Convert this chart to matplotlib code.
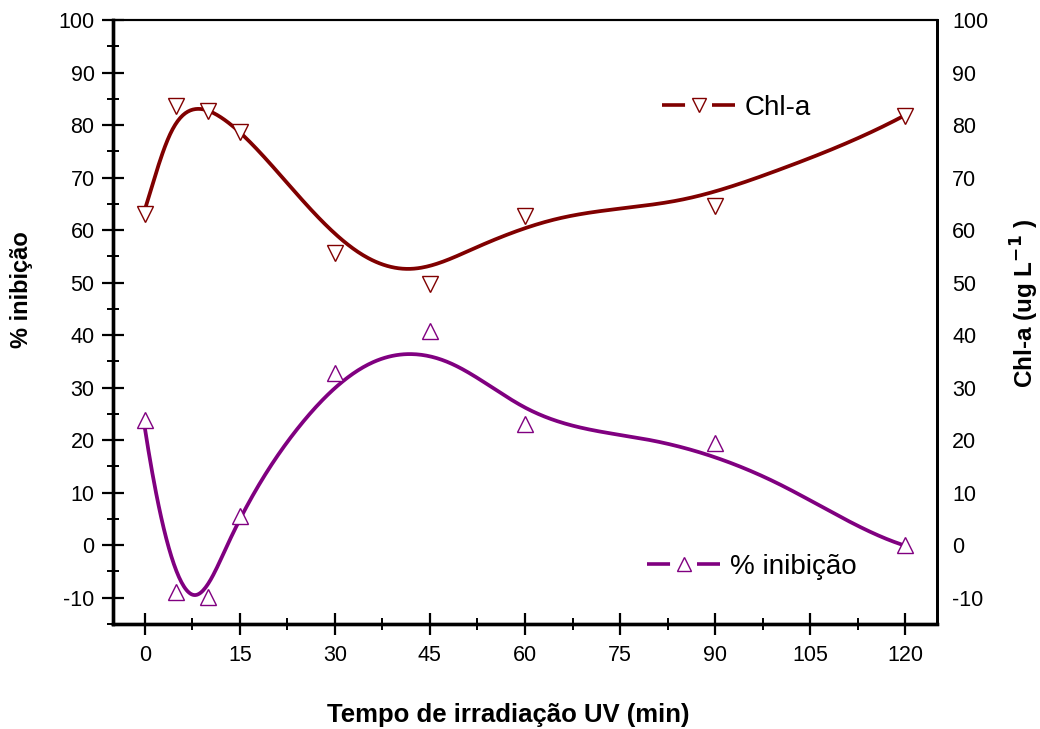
import numpy as np
import matplotlib
matplotlib.use("Agg")
import matplotlib.pyplot as plt
from matplotlib.lines import Line2D
from matplotlib.ticker import MultipleLocator

plt.rcParams['font.family'] = ['Liberation Sans', 'DejaVu Sans']
plt.rcParams['axes.unicode_minus'] = False

# Measured data
time_min = [0, 5, 10, 15, 30, 45, 60, 90, 120]
chla = [63, 83.6, 82.7, 78.7, 55.7, 49.7, 62.7, 64.6, 81.7]
inib = [23.8, -8.9, -9.8, 5.6, 32.8, 40.8, 23.0, 19.4, 0.0]

# Fitted curves
chla_fit_x = [0, 1.2, 2.2, 3.3, 4.3, 5.4, 6.4, 8.0, 9.6, 11.2, 12.7, 14.8, 16.9, 19.1,
              21.2, 23.3, 25.4, 27.5, 29.6, 31.7, 33.8, 35.9, 38.0, 40.1, 42.0, 44.3,
              46.4, 48.0, 51.2, 55.5, 60.6, 66.9, 74.8, 88.0, 95.9, 108.0, 120.0]
chla_fit_y = [63.8, 68.3, 72.7, 76.2, 79.0, 81.0, 82.2, 83.0, 82.9, 82.2, 81.0, 78.7, 76.2, 73.7,
              70.8, 67.9, 65.1, 62.2, 59.7, 57.5, 55.7, 54.3, 53.3, 52.9, 52.7, 53.0,
              53.6, 54.3, 55.9, 58.4, 61.0, 62.5, 63.8, 67.0, 69.5, 75.2, 81.9]
inib_fit_x = [0, 1.2, 2.2, 3.3, 4.3, 5.4, 6.4, 8.0, 9.6, 11.2, 12.7, 14.8, 16.9, 19.1,
              22.2, 25.4, 29.6, 34.8, 42.0, 48.5, 53.8, 61.7, 74.8, 88.0, 95.9, 106.4, 120.0]
inib_fit_y = [22.5, 14.3, 7.3, 1.6, -2.9, -6.0, -7.9, -8.6, -8.1, -5.7, -1.6, 4.8, 9.8, 14.0,
              18.7, 24.0, 29.5, 34.0, 36.6, 34.6, 30.5, 25.4, 21.0, 17.5, 14.0, 7.6, -0.1]

xticks = [0, 15, 30, 45, 60, 75, 90, 105, 120]
yticks = list(range(-10, 101, 10))


def smooth_curve(x, y, knots, n=600):
    """Least-squares cubic spline through the read curve points."""
    x = np.asarray(x, float); y = np.asarray(y, float)
    s = 120.0
    def basis(t):
        t = np.asarray(t, float) / s
        cols = [np.ones_like(t), t, t**2, t**3]
        for k in knots:
            cols.append(np.clip(t - k / s, 0, None) ** 3)
        return np.column_stack(cols)
    w = np.ones_like(x); w[0] = w[-1] = 5.0
    B = basis(x)
    coef, *_ = np.linalg.lstsq(B * w[:, None], y * w, rcond=None)
    xs = np.linspace(x[0], x[-1], n)
    return xs, basis(xs) @ coef


RED = '#800000'
PURPLE = '#800080'

fig = plt.figure(figsize=(10.4, 7.29), dpi=100)
ax = fig.add_axes([113 / 1040, 1 - 624 / 729, 824 / 1040, 604 / 729])
ax2 = ax.twinx()

for a in (ax, ax2):
    a.set_xlim(-5, 125)
    a.set_ylim(-15, 100)
    a.spines['left'].set_linewidth(2.4)
    a.spines['bottom'].set_linewidth(2.4)
    a.spines['right'].set_linewidth(2.0)
    a.spines['top'].set_linewidth(1.5)

ax.yaxis.set_major_locator(MultipleLocator(10))
ax.yaxis.set_minor_locator(MultipleLocator(5))
ax2.yaxis.set_major_locator(MultipleLocator(10))
ax.set_xticks(xticks)
ax.xaxis.set_minor_locator(MultipleLocator(7.5))
ax.set_yticks(yticks)
ax2.set_yticks(yticks)

ax.tick_params(which='major', direction='inout', length=16.5, width=1.6, labelsize=15.5, pad=5)
ax.tick_params(which='minor', direction='inout', length=8, width=1.4)
ax.tick_params(axis='x', which='major', pad=7)
ax.tick_params(axis='both', which='both', top=False, right=False)
ax2.tick_params(axis='y', which='both', length=0, labelsize=15.5, pad=11)
ax2.tick_params(axis='x', which='both', top=False, bottom=False)

# inhibition on left axis
xs, ys = smooth_curve(inib_fit_x, inib_fit_y, [4, 8, 13, 24, 36, 48, 60, 80, 100])
ax.plot(xs, ys, color=PURPLE, lw=2.7, zorder=2)
ax.plot(time_min, inib, linestyle='none', marker='^', ms=11, mfc='white',
        mec=PURPLE, mew=1.0, zorder=3)

# Chl-a on right axis
xs, ys = smooth_curve(chla_fit_x, chla_fit_y, [4, 8, 12, 18, 26, 34, 42, 52, 65, 85, 100])
ax2.plot(xs, ys, color=RED, lw=2.7, zorder=2)
ax2.plot(time_min, chla, linestyle='none', marker='v', ms=11, mfc='white',
         mec=RED, mew=1.0, zorder=3)

ax.set_xlabel('Tempo de irradiação UV (min)', fontsize=18.5, fontweight='bold')
ax.xaxis.set_label_coords((508 - 113) / 824, -(703 - 624) / 604)
ax.set_ylabel('% inibição', fontsize=17, fontweight='bold')
ax.yaxis.set_label_coords((33 - 113) / 824, 1 - (290 - 20) / 604)
ax2.set_ylabel('Chl-a (ug L$^{\\mathbf{-1}}$ )', fontsize=17.5, fontweight='bold')
ax2.yaxis.set_label_coords((1009 - 113) / 824, 1 - (303 - 20) / 604)

fs = 20
L = 52.6
hl = L / fs
lw = 2.6
dash = (0, (16.6 / lw, 19.4 / lw))
h_chla = Line2D([], [], color=RED, lw=lw, linestyle=dash, marker='v', ms=10,
                mfc='white', mec=RED, mew=1.0)
h_inib = Line2D([], [], color=PURPLE, lw=lw, linestyle=dash, marker='^', ms=10,
                mfc='white', mec=PURPLE, mew=1.0)
leg1 = ax2.legend([h_chla], ['Chl-a'], loc='center left',
                  bbox_to_anchor=((662 - 113) / 824, 1 - (108 - 20) / 604),
                  frameon=False, fontsize=fs, handlelength=hl, numpoints=1,
                  handletextpad=0.36, borderaxespad=0, borderpad=0)
leg2 = ax2.legend([h_inib], ['% inibição'], loc='center left',
                  bbox_to_anchor=((647 - 113) / 824, 1 - (567 - 20) / 604),
                  frameon=False, fontsize=fs, handlelength=hl, numpoints=1,
                  handletextpad=0.36, borderaxespad=0, borderpad=0)
ax2.add_artist(leg1)

fig.savefig('out.png', dpi=100)
